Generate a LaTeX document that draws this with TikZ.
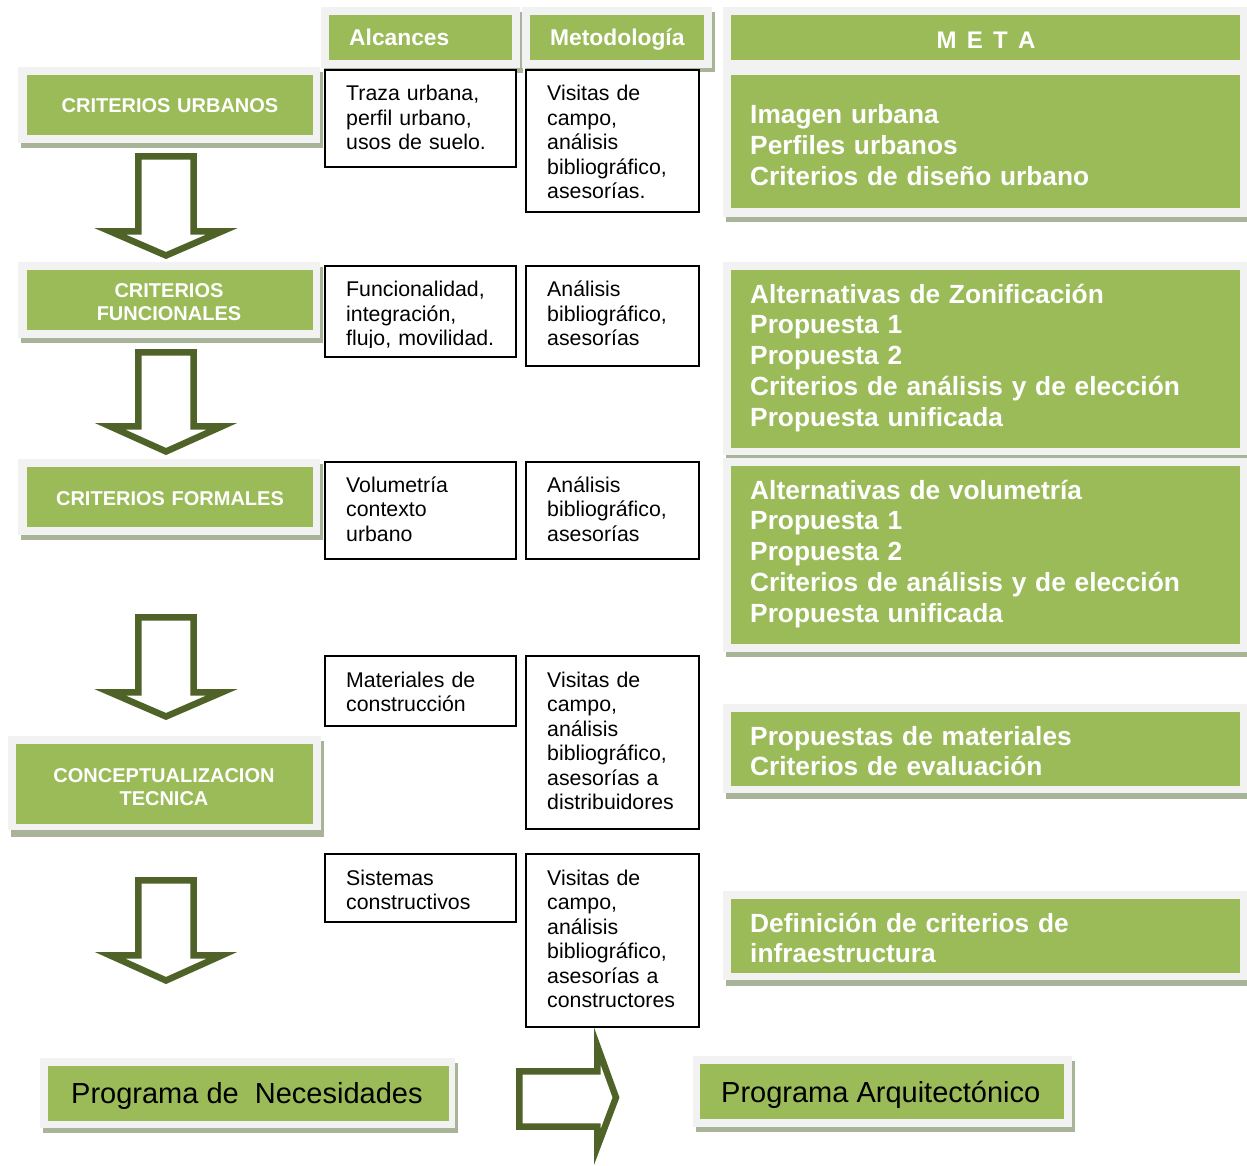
\documentclass[tikz,border=0pt]{standalone}
\usepackage{fontspec}
\setmainfont{Liberation Sans}
\usetikzlibrary{fit}
\definecolor{gr}{HTML}{9BBB59}
\definecolor{fr}{HTML}{F2F2F2}
\definecolor{sh}{HTML}{A8B497}
\definecolor{ar}{HTML}{4F6228}
\tikzset{
 shadowbox/.style={fill=sh, draw=none, inner sep=0pt},
 framebox/.style={fill=fr, draw=none, inner sep=0pt},
 greenbox/.style={fill=gr, draw=none, inner sep=0pt},
 whitebox/.style={draw=black, line width=2pt, fill=white, inner sep=0pt},
 blockarrow/.style={draw=ar, fill=white, line width=6.5pt, line join=miter, miter limit=10},
 bodytext/.style={font=\fontsize{21.3}{24.5}\selectfont, text=black, align=left, text width=170pt, inner sep=0pt, anchor=base west},
 metatext/.style={font=\bfseries\fontsize{26.3}{30.8}\selectfont, text=white, align=left, text width=480pt, inner sep=0pt, anchor=base west},
 labeltext/.style={font=\bfseries\fontsize{20}{23}\selectfont, text=white, align=center, text width=290pt, inner sep=0pt, anchor=base},
 headtext/.style={font=\bfseries\fontsize{22.8}{26}\selectfont, text=white, inner sep=0pt, anchor=base west},
 progtext/.style={font=\fontsize{29}{33}\selectfont, text=black, inner sep=0pt, anchor=base west},
}
\newcommand{\blkdown}[3]{%
 \draw[blockarrow] (138.3,#1) -- (193.7,#1) -- (193.7,#2) -- (222,#2) -- (166,#3) -- (110,#2) -- (138.3,#2) -- cycle;}
\begin{document}
\begin{tikzpicture}[x=1pt,y=-1pt]
\useasboundingbox (0,0) rectangle (1247,1166);
\fill[white] (0,0) rectangle (1247,1166);

% ---------- header frames ----------
\node[shadowbox, fit={(324,12) (523,73)}] (alcS) {};
\node[framebox, fit={(321,7) (520,68)}] (alcF) {};
\node[greenbox, fit={(329,15) (512,60)}] (alc) {};
\node[headtext] (alcT) at (349,46) {Alcances};

\node[shadowbox, fit={(525,12) (715,72)}] (metS) {};
\node[framebox, fit={(522,7) (712,68)}] (metF) {};
\node[greenbox, fit={(530,15) (704,60)}] (met) {};
\node[headtext] (metT) at (550,46) {Metodología};

% ---------- META column ----------
\node[shadowbox, fit={(726,12) (1250,222)}] (metaS) {};
\node[framebox, fit={(723,7) (1248,217)}] (metaF) {};
\node[greenbox, fit={(731,15) (1240,60)}] (metaH) {};
\node[font=\bfseries\fontsize{24}{28}\selectfont, text=white, inner sep=0pt, anchor=base] (metaHT) at (986,49) {\spaceskip=10.3pt\relax M E T A};
\node[greenbox, fit={(731,75) (1240,208)}] (meta1) {};
\node[metatext] (meta1T) at (750,124) {Imagen urbana\\Perfiles urbanos\\Criterios de diseño urbano};

\node[shadowbox, fit={(726,267) (1250,460)}] (meta2S) {};
\node[framebox, fit={(723,262) (1248,455)}] (meta2F) {};
\node[greenbox, fit={(731,270) (1240,448)}] (meta2) {};
\node[metatext] (meta2T) at (750,303) {Alternativas de Zonificación\\Propuesta 1\\Propuesta 2\\Criterios de análisis y de elección\\Propuesta unificada};

\node[shadowbox, fit={(726,463) (1250,657)}] (meta3S) {};
\node[framebox, fit={(723,458) (1248,652)}] (meta3F) {};
\node[greenbox, fit={(731,466) (1240,644)}] (meta3) {};
\node[metatext] (meta3T) at (750,499) {Alternativas de volumetría\\Propuesta 1\\Propuesta 2\\Criterios de análisis y de elección\\Propuesta unificada};

\node[shadowbox, fit={(726,709) (1250,799)}] (meta4S) {};
\node[framebox, fit={(723,704) (1248,793)}] (meta4F) {};
\node[greenbox, fit={(731,712) (1240,786)}] (meta4) {};
\node[metatext] (meta4T) at (750,745) {Propuestas de materiales\\Criterios de evaluación};

\node[shadowbox, fit={(726,896) (1250,986)}] (meta5S) {};
\node[framebox, fit={(723,891) (1248,980)}] (meta5F) {};
\node[greenbox, fit={(731,899) (1240,973)}] (meta5) {};
\node[metatext] (meta5T) at (750,932) {Definición de criterios de\\infraestructura};

% ---------- left labels ----------
\node[shadowbox, fit={(21,72) (323,148)}] (cuS) {};
\node[framebox, fit={(18,67) (320,143)}] (cuF) {};
\node[greenbox, fit={(27,75) (313,135)}] (cu) {};
\node[labeltext] (cuT) at (170,113) {CRITERIOS URBANOS};

\node[shadowbox, fit={(21,267) (323,343)}] (cfS) {};
\node[framebox, fit={(18,262) (320,338)}] (cfF) {};
\node[greenbox, fit={(27,270) (313,330)}] (cf) {};
\node[labeltext] (cfT) at (169,298) {CRITERIOS\\FUNCIONALES};

\node[shadowbox, fit={(21,464) (323,540)}] (cfoS) {};
\node[framebox, fit={(18,459) (320,535)}] (cfoF) {};
\node[greenbox, fit={(27,467) (313,527)}] (cfo) {};
\node[labeltext] (cfoT) at (170,505) {CRITERIOS FORMALES};

\node[shadowbox, fit={(11,741) (324,837)}] (ctS) {};
\node[framebox, fit={(8,736) (321,830)}] (ctF) {};
\node[greenbox, fit={(16,744) (313,824)}] (ct) {};
\node[labeltext] (ctT) at (164,782) {CONCEPTUALIZACION\\TECNICA};

% ---------- white boxes ----------
\node[whitebox, fit={(325,70) (516,167)}] (traza) {};
\node[bodytext] (trazaT) at (346,101) {Traza urbana,\\perfil urbano,\\usos de suelo.};
\node[whitebox, fit={(526,70) (699,212)}] (vis1) {};
\node[bodytext] (vis1T) at (547,101) {Visitas de\\campo,\\análisis\\bibliográfico,\\asesorías.};

\node[whitebox, fit={(325,266) (516,357)}] (func) {};
\begin{scope}
\clip (326,267) rectangle (515,347.5);
\node[bodytext] (funcT) at (346,297) {Funcionalidad,\\integración,\\flujo, movilidad.};
\end{scope}
\node[whitebox, fit={(526,266) (699,366)}] (ana1) {};
\node[bodytext] (ana1T) at (547,297) {Análisis\\bibliográfico,\\asesorías};

\node[whitebox, fit={(325,462) (516,559)}] (vol) {};
\node[bodytext] (volT) at (346,492) {Volumetría\\contexto\\urbano};
\node[whitebox, fit={(526,462) (699,559)}] (ana2) {};
\node[bodytext] (ana2T) at (547,492) {Análisis\\bibliográfico,\\asesorías};

\node[whitebox, fit={(325,656) (516,726)}] (mat) {};
\node[bodytext] (matT) at (346,687) {Materiales de\\construcción};
\node[whitebox, fit={(526,656) (699,829)}] (vis2) {};
\node[bodytext] (vis2T) at (547,687) {Visitas de\\campo,\\análisis\\bibliográfico,\\asesorías a\\distribuidores};

\node[whitebox, fit={(325,854) (516,922)}] (sis) {};
\node[bodytext] (sisT) at (346,885) {Sistemas\\constructivos};
\node[whitebox, fit={(526,854) (699,1027)}] (vis3) {};
\node[bodytext] (vis3T) at (547,885) {Visitas de\\campo,\\análisis\\bibliográfico,\\asesorías a\\constructores};

% ---------- down arrows ----------
\blkdown{156.3}{231.3}{255.5}
\blkdown{352.3}{426.3}{451.5}
\blkdown{617.3}{692.3}{716.5}
\blkdown{880.3}{955.3}{980.5}

% ---------- bottom ----------
\node[shadowbox, fit={(43,1063) (458,1133)}] (pnS) {};
\node[framebox, fit={(40,1058) (455,1128)}] (pnF) {};
\node[greenbox, fit={(48,1066) (449,1121)}] (pn) {};
\node[progtext] (pnT) at (71,1103) {Programa de~ Necesidades};

\draw[blockarrow] (519.3,1071.3) -- (597.3,1071.3) -- (597.3,1046) -- (616,1097.5) -- (597.3,1147) -- (597.3,1126.7) -- (519.3,1126.7) -- cycle;

\node[shadowbox, fit={(696,1061) (1075,1132)}] (paS) {};
\node[framebox, fit={(693,1056) (1072,1127)}] (paF) {};
\node[greenbox, fit={(700,1064) (1064,1119)}] (pa) {};
\node[progtext] (paT) at (721,1102) {Programa Arquitectónico};
\end{tikzpicture}
\end{document}
